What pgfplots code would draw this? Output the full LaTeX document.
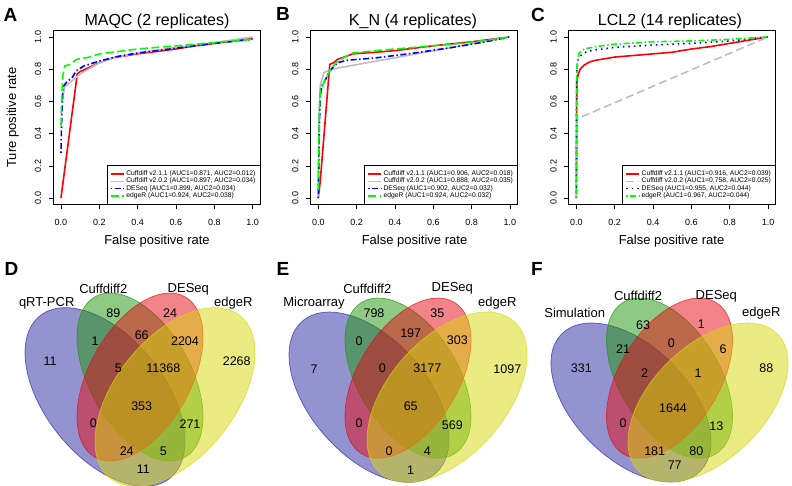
\documentclass[border=0pt]{standalone}
\usepackage{fontspec}
\setmainfont{Liberation Sans}
\usepackage{pgfplots}
\pgfplotsset{compat=1.18}

\definecolor{rred}{RGB}{255,0,0}
\definecolor{rgrey}{RGB}{190,190,190}
\definecolor{rblue}{RGB}{0,0,255}
\definecolor{rgreen}{RGB}{0,255,0}
\definecolor{vblue}{RGB}{40,40,160}
\definecolor{vgreen}{RGB}{30,150,10}
\definecolor{vred}{RGB}{230,10,20}
\definecolor{vyellow}{RGB}{215,215,10}

\newcommand{\fs}[1]{\fontsize{#1bp}{#1bp}\selectfont}

\pgfplotsset{
  rocaxis/.style={
    scale only axis, width=207bp, height=174bp,
    xmin=-0.04, xmax=1.04, ymin=-0.04, ymax=1.04,
    no markers,
    axis line style={line width=0.6bp},
    tick align=outside, tick pos=left,
    major tick length=4.5bp,
    tick style={line width=0.6bp, black},
    xtick={0,0.2,0.4,0.6,0.8,1}, ytick={0,0.2,0.4,0.6,0.8,1},
    xticklabels={0.0,0.2,0.4,0.6,0.8,1.0},
    yticklabels={0.0,0.2,0.4,0.6,0.8,1.0},
    tick label style={font=\fs{9}},
    yticklabel style={rotate=90, anchor=south},
    xticklabel shift=6.5bp, yticklabel shift=4bp,
    legend cell align=left,
    legend style={at={(1,0)}, anchor=south east, draw=black, line width=0.6bp,
      font=\fs{6.75}, inner xsep=3bp, inner ysep=4.6bp, row sep=0bp,
      nodes={inner ysep=0.4bp, inner xsep=1.5bp, text height=4.9bp, text depth=1.6bp}},
    legend image code/.code={\draw[##1] (0bp,0bp) -- (13.3bp,0bp);},
  },
  redl/.style={rred, line width=1.6bp},
  greyl/.style={rgrey, line width=1.6bp},
  greyd/.style={rgrey, line width=1.6bp, dash pattern=on 8bp off 4bp},
  bluedd/.style={rblue, line width=1.6bp, dash pattern=on 1.5bp off 2.5bp on 6bp off 2.5bp},
  bluedot/.style={rblue, line width=1.6bp, dash pattern=on 1.5bp off 4bp},
  greend/.style={rgreen, line width=1.6bp, dash pattern=on 8bp off 3.5bp},
  greendd/.style={rgreen, line width=1.6bp, dash pattern=on 1.5bp off 2.5bp on 6bp off 2.5bp},
  vennaxis/.style={scale only axis, width=264bp, height=243bp,
    xmin=0, xmax=264, ymin=0, ymax=243, hide axis, clip=false},
}
\tikzset{
  vnum/.style={font=\fs{12.5}, anchor=center, inner sep=0pt},
  vlab/.style={font=\fs{13}, anchor=center, inner sep=0pt},
  vb/.style={fill=vblue, draw=vblue, fill opacity=0.5, draw opacity=0.7, line width=0.7bp},
  vg/.style={fill=vgreen, draw=vgreen, fill opacity=0.5, draw opacity=0.7, line width=0.7bp},
  vr/.style={fill=vred, draw=vred, fill opacity=0.5, draw opacity=0.7, line width=0.7bp},
  vy/.style={fill=vyellow, draw=vyellow, fill opacity=0.5, draw opacity=0.7, line width=0.7bp},
  plab/.style={font=\bfseries\fs{19}, anchor=base},
}

\begin{document}
\begin{tikzpicture}
\path[use as bounding box] (0bp,0bp) rectangle (792bp,486bp);

% ---------------- A: MAQC ----------------
\begin{axis}[rocaxis, at={(53.3bp,281.5bp)}, anchor=south west]
\addplot[redl] coordinates {(0,0) (0.085,0.77) (0.1,0.785) (0.2,0.84) (0.27,0.87) (0.4,0.895) (0.5,0.91) (0.6,0.925) (0.7,0.945) (0.8,0.96) (0.9,0.975) (1,0.99)};
\addlegendentry{Cuffdiff v2.1.1 (AUC1=0.871, AUC2=0.012)}
\addplot[greyl] coordinates {(0.005,0.6) (0.02,0.69) (0.05,0.72) (0.1,0.77) (0.2,0.84) (0.27,0.87) (0.4,0.9) (0.6,0.935) (0.8,0.965) (1,1)};
\addlegendentry{Cuffdiff v2.0.2 (AUC1=0.897, AUC2=0.034)}
\addplot[bluedd] coordinates {(0,0.28) (0.003,0.45) (0.01,0.69) (0.03,0.72) (0.06,0.75) (0.08,0.79) (0.12,0.82) (0.2,0.85) (0.3,0.88) (0.4,0.9) (0.6,0.93) (0.8,0.96) (1,0.985)};
\addlegendentry{DESeq (AUC1=0.899, AUC2=0.034)}
\addplot[greend] coordinates {(0,0.45) (0.005,0.65) (0.01,0.76) (0.02,0.82) (0.05,0.83) (0.08,0.86) (0.15,0.875) (0.2,0.895) (0.3,0.91) (0.4,0.925) (0.6,0.945) (0.8,0.965) (1,0.985)};
\addlegendentry{edgeR (AUC1=0.924, AUC2=0.038)}
\end{axis}

% ---------------- B: K_N ----------------
\begin{axis}[rocaxis, at={(310.6bp,281.5bp)}, anchor=south west]
\addplot[redl] coordinates {(0,0) (0.01,0.1) (0.06,0.83) (0.08,0.84) (0.1,0.86) (0.18,0.895) (0.3,0.905) (0.4,0.915) (0.6,0.945) (0.8,0.97) (1,1)};
\addlegendentry{Cuffdiff v2.1.1 (AUC1=0.906, AUC2=0.018)}
\addplot[greyl] coordinates {(0,0) (0.003,0.5) (0.01,0.7) (0.03,0.78) (0.07,0.8) (1,1)};
\addlegendentry{Cuffdiff v2.0.2 (AUC1=0.888, AUC2=0.035)}
\addplot[bluedd] coordinates {(0,0) (0.005,0.4) (0.01,0.63) (0.02,0.7) (0.04,0.74) (0.06,0.79) (0.1,0.84) (0.15,0.855) (0.3,0.87) (0.5,0.9) (0.7,0.935) (0.85,0.965) (1,1)};
\addlegendentry{DESeq (AUC1=0.902, AUC2=0.032)}
\addplot[greend] coordinates {(0,0.05) (0.005,0.5) (0.01,0.66) (0.03,0.72) (0.06,0.79) (0.1,0.85) (0.18,0.9) (0.3,0.915) (0.5,0.935) (0.7,0.955) (0.85,0.975) (1,1)};
\addlegendentry{edgeR (AUC1=0.924, AUC2=0.032)}
\end{axis}

% ---------------- C: LCL2 ----------------
\begin{axis}[rocaxis, at={(568.7bp,281.5bp)}, anchor=south west]
\addplot[redl] coordinates {(0,0) (0.002,0.72) (0.01,0.77) (0.02,0.8) (0.04,0.825) (0.07,0.845) (0.1,0.855) (0.15,0.865) (0.2,0.875) (0.3,0.885) (0.4,0.895) (0.5,0.905) (0.6,0.925) (0.7,0.94) (0.8,0.96) (0.9,0.98) (1,1)};
\addlegendentry{Cuffdiff v2.1.1 (AUC1=0.916, AUC2=0.039)}
\addplot[greyd] coordinates {(0,0) (0.001,0.48) (0.02,0.5) (1,1)};
\addlegendentry{Cuffdiff v2.0.2 (AUC1=0.758, AUC2=0.025)}
\addplot[bluedot] coordinates {(0,0) (0.001,0.6) (0.003,0.8) (0.01,0.86) (0.03,0.895) (0.06,0.91) (0.1,0.92) (0.2,0.935) (0.4,0.95) (0.6,0.96) (0.8,0.975) (1,1)};
\addlegendentry{DESeq (AUC1=0.955, AUC2=0.044)}
\addplot[greendd] coordinates {(0,0) (0.001,0.7) (0.004,0.85) (0.015,0.9) (0.04,0.925) (0.1,0.94) (0.2,0.955) (0.4,0.97) (0.6,0.975) (0.8,0.985) (1,1)};
\addlegendentry{edgeR (AUC1=0.967, AUC2=0.044)}
\end{axis}

% titles, labels, panel letters (top)
\node[font=\fs{16}, anchor=base] at (157bp,460bp) {MAQC (2 replicates)};
\node[font=\fs{16}, anchor=base] at (413bp,460bp) {K\_N (4 replicates)};
\node[font=\fs{16}, anchor=base] at (670bp,460bp) {LCL2 (14 replicates)};
\node[font=\fs{13}, anchor=base] at (157bp,241bp) {False positive rate};
\node[font=\fs{13}, anchor=base] at (414.5bp,241bp) {False positive rate};
\node[font=\fs{13}, anchor=base] at (671.5bp,241bp) {False positive rate};
\node[font=\fs{13}, rotate=90, anchor=center] at (12.7bp,368.5bp) {Ture positive rate};
\node[plab] at (10.5bp,464bp) {A};
\node[plab] at (283bp,465bp) {B};
\node[plab] at (538bp,464bp) {C};

% ---------------- D ----------------
\begin{axis}[vennaxis, at={(0bp,0bp)}, anchor=south west]
\filldraw[vb] (axis cs:105,89) ellipse [x radius=104bp, y radius=59.7bp, rotate=128.7];
\filldraw[vg] (axis cs:140,109) ellipse [x radius=92bp, y radius=50.6bp, rotate=119.26];
\filldraw[vr] (axis cs:140,109) ellipse [x radius=92bp, y radius=50.6bp, rotate=60.74];
\filldraw[vy] (axis cs:175,89) ellipse [x radius=104bp, y radius=59.7bp, rotate=51.3];
\node[vlab] at (axis cs:46.7,182.5) {qRT-PCR};
\node[vlab] at (axis cs:103.3,197) {Cuffdiff2};
\node[vlab] at (axis cs:188.3,197) {DESeq};
\node[vlab] at (axis cs:233.3,182.5) {edgeR};
\node[vnum] at (axis cs:50,124.7) {11};
\node[vnum] at (axis cs:113.3,172.7) {89};
\node[vnum] at (axis cs:170,172.7) {24};
\node[vnum] at (axis cs:236.7,124.7) {2268};
\node[vnum] at (axis cs:95,144.5) {1};
\node[vnum] at (axis cs:141.7,151.3) {66};
\node[vnum] at (axis cs:185,144.5) {2204};
\node[vnum] at (axis cs:118.3,118) {5};
\node[vnum] at (axis cs:163.3,118) {11368};
\node[vnum] at (axis cs:141.7,79.7) {353};
\node[vnum] at (axis cs:93.3,63) {0};
\node[vnum] at (axis cs:190,62) {271};
\node[vnum] at (axis cs:126.7,34.7) {24};
\node[vnum] at (axis cs:163.3,34.7) {5};
\node[vnum] at (axis cs:143.3,16.5) {11};
\end{axis}

% ---------------- E ----------------
\begin{axis}[vennaxis, at={(264bp,0bp)}, anchor=south west]
\filldraw[vb] (axis cs:105,88.8) ellipse [x radius=101.1bp, y radius=58.5bp, rotate=131.4];
\filldraw[vg] (axis cs:144,107.9) ellipse [x radius=88.8bp, y radius=50bp, rotate=121.54];
\filldraw[vr] (axis cs:144,107.9) ellipse [x radius=88.8bp, y radius=50bp, rotate=58.46];
\filldraw[vy] (axis cs:183,88.8) ellipse [x radius=101.1bp, y radius=58.5bp, rotate=48.6];
\node[vlab] at (axis cs:50,183) {Microarray};
\node[vlab] at (axis cs:103.3,197.3) {Cuffdiff2};
\node[vlab] at (axis cs:188.3,197.3) {DESeq};
\node[vlab] at (axis cs:233.3,183) {edgeR};
\node[vnum] at (axis cs:50,117) {7};
\node[vnum] at (axis cs:110,173) {798};
\node[vnum] at (axis cs:173.3,173) {35};
\node[vnum] at (axis cs:243.3,117) {1097};
\node[vnum] at (axis cs:95,144.7) {0};
\node[vnum] at (axis cs:146.7,153) {197};
\node[vnum] at (axis cs:193.3,146.3) {303};
\node[vnum] at (axis cs:118.3,118) {0};
\node[vnum] at (axis cs:163.3,118) {3177};
\node[vnum] at (axis cs:146.7,79.7) {65};
\node[vnum] at (axis cs:95,63) {0};
\node[vnum] at (axis cs:188.3,61.3) {569};
\node[vnum] at (axis cs:125,34.7) {0};
\node[vnum] at (axis cs:163.3,34.7) {4};
\node[vnum] at (axis cs:146.7,16.3) {1};
\end{axis}

% ---------------- F ----------------
\begin{axis}[vennaxis, at={(528bp,0bp)}, anchor=south west]
\filldraw[vb] (axis cs:103,83.5) ellipse [x radius=97.5bp, y radius=56.7bp, rotate=135.4];
\filldraw[vg] (axis cs:141.5,107.9) ellipse [x radius=88.8bp, y radius=50bp, rotate=121.54];
\filldraw[vr] (axis cs:141.5,107.9) ellipse [x radius=88.8bp, y radius=50bp, rotate=58.46];
\filldraw[vy] (axis cs:180,83.5) ellipse [x radius=97.5bp, y radius=56.7bp, rotate=44.6];
\node[vlab] at (axis cs:46.7,173) {Simulation};
\node[vlab] at (axis cs:110,189.7) {Cuffdiff2};
\node[vlab] at (axis cs:188.3,189.7) {DESeq};
\node[vlab] at (axis cs:233.3,173) {edgeR};
\node[vnum] at (axis cs:53.3,118) {331};
\node[vnum] at (axis cs:115,161.3) {63};
\node[vnum] at (axis cs:173.3,161.3) {1};
\node[vnum] at (axis cs:238.3,118) {88};
\node[vnum] at (axis cs:95,137) {21};
\node[vnum] at (axis cs:143.3,143) {0};
\node[vnum] at (axis cs:195,137) {6};
\node[vnum] at (axis cs:116.7,113) {2};
\node[vnum] at (axis cs:170,113) {1};
\node[vnum] at (axis cs:145,78) {1644};
\node[vnum] at (axis cs:95,63) {0};
\node[vnum] at (axis cs:188.3,59.7) {13};
\node[vnum] at (axis cs:126.7,34.7) {181};
\node[vnum] at (axis cs:168.3,34.7) {80};
\node[vnum] at (axis cs:146.7,21.3) {77};
\end{axis}

\node[plab] at (11.5bp,210bp) {D};
\node[plab] at (283bp,210bp) {E};
\node[plab] at (537bp,210bp) {F};
\end{tikzpicture}
\end{document}
